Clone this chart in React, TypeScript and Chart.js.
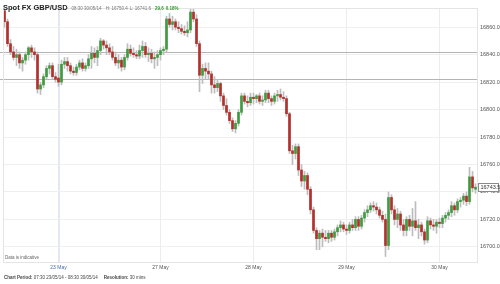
import React, { useEffect, useRef } from "react";
import { Chart, registerables } from "chart.js";
Chart.register(...registerables);

const opens = [
  16872, 16864, 16848, 16842, 16838, 16840, 16834, 16836, 16840, 16845,
  16842, 16840, 16815, 16818, 16824, 16830, 16832, 16824, 16823, 16820,
  16833, 16835, 16832, 16828, 16827, 16831, 16834, 16830, 16832, 16837,
  16841, 16838, 16843, 16850, 16847, 16845, 16842, 16838, 16834, 16836,
  16831, 16838, 16844, 16841, 16840, 16839, 16843, 16846, 16840, 16841,
  16837, 16838, 16840, 16843, 16844, 16866, 16862, 16864, 16860, 16859,
  16857, 16856, 16858, 16871, 16866, 16848, 16825, 16830, 16828, 16826,
  16818, 16816, 16819, 16810, 16803, 16798, 16792, 16786, 16790, 16798,
  16810, 16806, 16805, 16809, 16808, 16810, 16806, 16807, 16812, 16808,
  16806, 16810, 16811, 16809, 16808, 16797, 16770, 16768, 16773, 16756,
  16748, 16752, 16742, 16727, 16712, 16706, 16710, 16707, 16706, 16710,
  16707, 16711, 16714, 16716, 16713, 16712, 16716, 16714, 16720, 16715,
  16721, 16725, 16727, 16730, 16729, 16727, 16723, 16720, 16701, 16736,
  16727, 16720, 16724, 16716, 16712, 16720, 16715, 16719, 16714, 16716,
  16711, 16705, 16719, 16716, 16715, 16718, 16717, 16721, 16723, 16725,
  16730, 16727, 16733, 16734, 16737, 16733, 16751, 16742,
];
const highs = [
  16874, 16866, 16851, 16846, 16844, 16842, 16838, 16842, 16846, 16847,
  16845, 16842, 16820, 16826, 16832, 16834, 16834, 16827, 16833, 16836,
  16838, 16838, 16834, 16831, 16833, 16836, 16837, 16834, 16840, 16846,
  16845, 16846, 16852, 16851, 16850, 16848, 16846, 16842, 16840, 16838,
  16840, 16848, 16847, 16845, 16843, 16847, 16850, 16849, 16845, 16844,
  16842, 16843, 16845, 16846, 16868, 16870, 16868, 16866, 16864, 16862,
  16861, 16864, 16874, 16874, 16869, 16850, 16833, 16834, 16834, 16828,
  16824, 16822, 16820, 16812, 16808, 16800, 16794, 16792, 16800, 16812,
  16812, 16810, 16812, 16812, 16811, 16812, 16810, 16814, 16814, 16810,
  16812, 16814, 16815, 16813, 16810, 16798, 16774, 16775, 16775, 16760,
  16755, 16754, 16744, 16729, 16714, 16712, 16713, 16712, 16712, 16712,
  16713, 16716, 16719, 16718, 16716, 16718, 16720, 16722, 16722, 16723,
  16727, 16730, 16732, 16733, 16732, 16729, 16726, 16724, 16740, 16738,
  16730, 16728, 16726, 16720, 16722, 16723, 16728, 16733, 16720, 16718,
  16713, 16722, 16721, 16720, 16720, 16721, 16723, 16725, 16727, 16733,
  16732, 16735, 16736, 16739, 16740, 16758, 16755, 16746,
];
const lows = [
  16860, 16846, 16840, 16836, 16832, 16830, 16828, 16833, 16836, 16838,
  16836, 16812, 16811, 16816, 16822, 16826, 16822, 16820, 16817, 16818,
  16830, 16828, 16826, 16825, 16825, 16829, 16828, 16828, 16830, 16830,
  16834, 16832, 16840, 16844, 16840, 16840, 16836, 16832, 16830, 16828,
  16829, 16836, 16839, 16838, 16837, 16837, 16838, 16838, 16835, 16834,
  16830, 16832, 16836, 16840, 16842, 16860, 16858, 16858, 16856, 16855,
  16854, 16853, 16856, 16864, 16846, 16813, 16819, 16822, 16822, 16812,
  16812, 16813, 16806, 16800, 16796, 16790, 16784, 16783, 16788, 16796,
  16804, 16802, 16803, 16804, 16805, 16804, 16803, 16805, 16805, 16803,
  16804, 16806, 16807, 16806, 16795, 16768, 16760, 16764, 16752, 16744,
  16742, 16738, 16724, 16710, 16698, 16698, 16700, 16704, 16703, 16704,
  16705, 16708, 16711, 16711, 16709, 16710, 16712, 16712, 16712, 16713,
  16718, 16722, 16725, 16726, 16724, 16721, 16718, 16693, 16698, 16724,
  16716, 16714, 16712, 16708, 16708, 16712, 16708, 16712, 16706, 16708,
  16702, 16703, 16713, 16712, 16710, 16714, 16714, 16718, 16720, 16722,
  16723, 16725, 16729, 16731, 16730, 16731, 16740, 16739,
];
const closes = [
  16864, 16848, 16842, 16838, 16840, 16834, 16836, 16840, 16845, 16842,
  16840, 16815, 16818, 16824, 16830, 16832, 16824, 16822, 16820, 16833,
  16835, 16832, 16828, 16827, 16831, 16834, 16830, 16832, 16837, 16841,
  16838, 16843, 16850, 16847, 16845, 16842, 16838, 16834, 16836, 16831,
  16838, 16844, 16841, 16840, 16839, 16843, 16846, 16840, 16841, 16837,
  16838, 16840, 16843, 16844, 16866, 16862, 16864, 16860, 16859, 16857,
  16856, 16858, 16871, 16866, 16848, 16825, 16830, 16828, 16826, 16818,
  16816, 16819, 16810, 16803, 16798, 16792, 16786, 16790, 16798, 16810,
  16806, 16805, 16809, 16808, 16810, 16806, 16807, 16812, 16808, 16806,
  16810, 16811, 16809, 16808, 16797, 16770, 16768, 16773, 16756, 16748,
  16752, 16742, 16727, 16712, 16706, 16710, 16707, 16706, 16710, 16707,
  16711, 16714, 16716, 16713, 16712, 16716, 16714, 16720, 16715, 16721,
  16725, 16727, 16730, 16729, 16727, 16723, 16720, 16701, 16736, 16727,
  16720, 16724, 16716, 16712, 16720, 16715, 16719, 16714, 16716, 16711,
  16705, 16719, 16716, 16715, 16718, 16717, 16721, 16723, 16725, 16730,
  16727, 16733, 16734, 16737, 16733, 16751, 16743, 16743.5,
];

const dayStarts = [18, 52, 83, 114, 145];
const dayNames = ["23 May", "27 May", "28 May", "29 May", "30 May"];
const referenceLevels = [16842, 16822];
const yMin = 16689;
const yMax = 16874;
const yStep = 20;
const lastPrice = 16743.5;

const FONT = "'Liberation Sans', Arial, sans-serif";

const overlay = {
  id: "overlay",
  beforeDatasetsDraw(chart: any) {
    const { ctx, chartArea, scales } = chart;
    ctx.save();
    ctx.strokeStyle = "#b4b4b4";
    ctx.lineWidth = 1.2;
    referenceLevels.forEach((lv) => {
      const y = Math.round(scales.y.getPixelForValue(lv)) + 0.5;
      ctx.beginPath();
      ctx.moveTo(0, y);
      ctx.lineTo(chartArea.right, y);
      ctx.stroke();
    });
    ctx.restore();
  },
  afterDraw(chart: any) {
    const { ctx, chartArea, scales } = chart;
    ctx.save();
    ctx.strokeStyle = "#e4e4e4";
    ctx.lineWidth = 1;
    ctx.strokeRect(
      Math.round(chartArea.left) + 0.5,
      Math.round(chartArea.top) + 0.5,
      Math.round(chartArea.right - chartArea.left),
      Math.round(chartArea.bottom - chartArea.top)
    );
    const y = scales.y.getPixelForValue(lastPrice);
    const x = chartArea.right + 1;
    ctx.fillStyle = "#ffffff";
    ctx.fillRect(x, y - 4.5, 21, 9);
    ctx.strokeStyle = "#8a8a8a";
    ctx.strokeRect(Math.round(x) + 0.5, Math.round(y - 4.5) + 0.5, 20, 8);
    ctx.fillStyle = "#333";
    ctx.font = `5.5px ${FONT}`;
    ctx.textBaseline = "middle";
    ctx.fillText(lastPrice.toFixed(1), x + 2.5, y + 0.5);
    ctx.restore();
  },
};

export default function App() {
  const ref = useRef<HTMLCanvasElement>(null);
  useEffect(() => {
    document.body.style.margin = "0";
    const labels = opens.map((_, i) => String(i));
    const bodies = opens.map((o, i) => [o, closes[i]]);
    const wicks = lows.map((l, i) => [l, highs[i]]);
    const bodyColors = opens.map((o, i) => (closes[i] >= o ? "#3f9b3f" : "#b3302c"));
    const chart = new Chart(ref.current as HTMLCanvasElement, {
      type: "bar",
      data: {
        labels,
        datasets: [
          {
            data: bodies as any,
            backgroundColor: bodyColors,
            borderWidth: 0,
            barThickness: 2,
            minBarLength: 1,
            grouped: false,
          } as any,
          {
            data: wicks as any,
            backgroundColor: "#bdbdbd",
            borderWidth: 0,
            barThickness: 1,
            grouped: false,
          } as any,
        ],
      },
      options: {
        animation: false,
        responsive: false,
        maintainAspectRatio: false,
        layout: { padding: { top: 8, left: 3, right: 0, bottom: 12 } },
        plugins: { legend: { display: false }, tooltip: { enabled: false } },
        scales: {
          x: {
            grid: {
              offset: false,
              drawTicks: false,
              color: (c: any) =>
                dayStarts.includes(c.index)
                  ? c.index === dayStarts[0]
                    ? "#e2e7f2"
                    : "#ececec"
                  : "rgba(0,0,0,0)",
              lineWidth: (c: any) => (c.index === dayStarts[0] ? 2 : 1),
            },
            border: { display: false },
            ticks: {
              autoSkip: false,
              maxRotation: 0,
              minRotation: 0,
              padding: 3,
              font: { size: 5, family: FONT },
              color: (c: any) => (c.index === dayStarts[0] ? "#4a6db0" : "#555"),
              callback: (_v: any, i: number) => {
                const k = dayStarts.indexOf(i);
                return k >= 0 ? dayNames[k] : "";
              },
            },
            afterFit: (s: any) => {
              s.height = 10;
            },
          },
          y: {
            position: "right",
            min: yMin,
            max: yMax,
            grid: { color: "#efefef", drawTicks: false },
            border: { display: false },
            ticks: {
              stepSize: yStep,
              includeBounds: false,
              padding: 3,
              font: { size: 5.5, family: FONT },
              color: "#555",
              callback: (v: any) => Number(v).toFixed(1),
            },
            afterFit: (s: any) => {
              s.width = 23;
            },
          },
        },
      } as any,
      plugins: [overlay],
    });
    return () => chart.destroy();
  }, []);

  const small: React.CSSProperties = { fontSize: 4.5, color: "#777", marginLeft: 4 };
  return (
    <div style={{ position: "fixed", left: 0, top: 0, width: 500, height: 284, background: "#fff", fontFamily: FONT }}>
      <canvas ref={ref} width={500} height={284} style={{ position: "absolute", left: 0, top: 0 }} />
      <div style={{ position: "absolute", left: 3, top: 1, whiteSpace: "nowrap", lineHeight: "8px" }}>
        <span style={{ fontSize: 7.5, fontWeight: "bold", color: "#222" }}>Spot FX GBP/USD</span>
        <span style={small}>08:30 30/05/14</span>
        <span style={small}>H: 16750.4</span>
        <span style={{ ...small, marginLeft: 2 }}>L: 16741.6</span>
        <span style={{ ...small, color: "#2a9a2a", fontWeight: "bold" }}>29.6</span>
        <span style={{ ...small, color: "#2a9a2a", fontWeight: "bold", marginLeft: 2 }}>0.18%</span>
      </div>
      <div style={{ position: "absolute", left: 5, top: 255, fontSize: 4.5, color: "#666", whiteSpace: "nowrap" }}>
        Data is indicative
      </div>
      <div style={{ position: "absolute", left: 4, top: 275, fontSize: 4.5, color: "#444", whiteSpace: "nowrap" }}>
        <b>Chart Period:</b> 07:30 23/05/14 - 08:30 30/05/14
        <span style={{ marginLeft: 6 }}>
          <b>Resolution:</b> 30 mins
        </span>
      </div>
    </div>
  );
}
